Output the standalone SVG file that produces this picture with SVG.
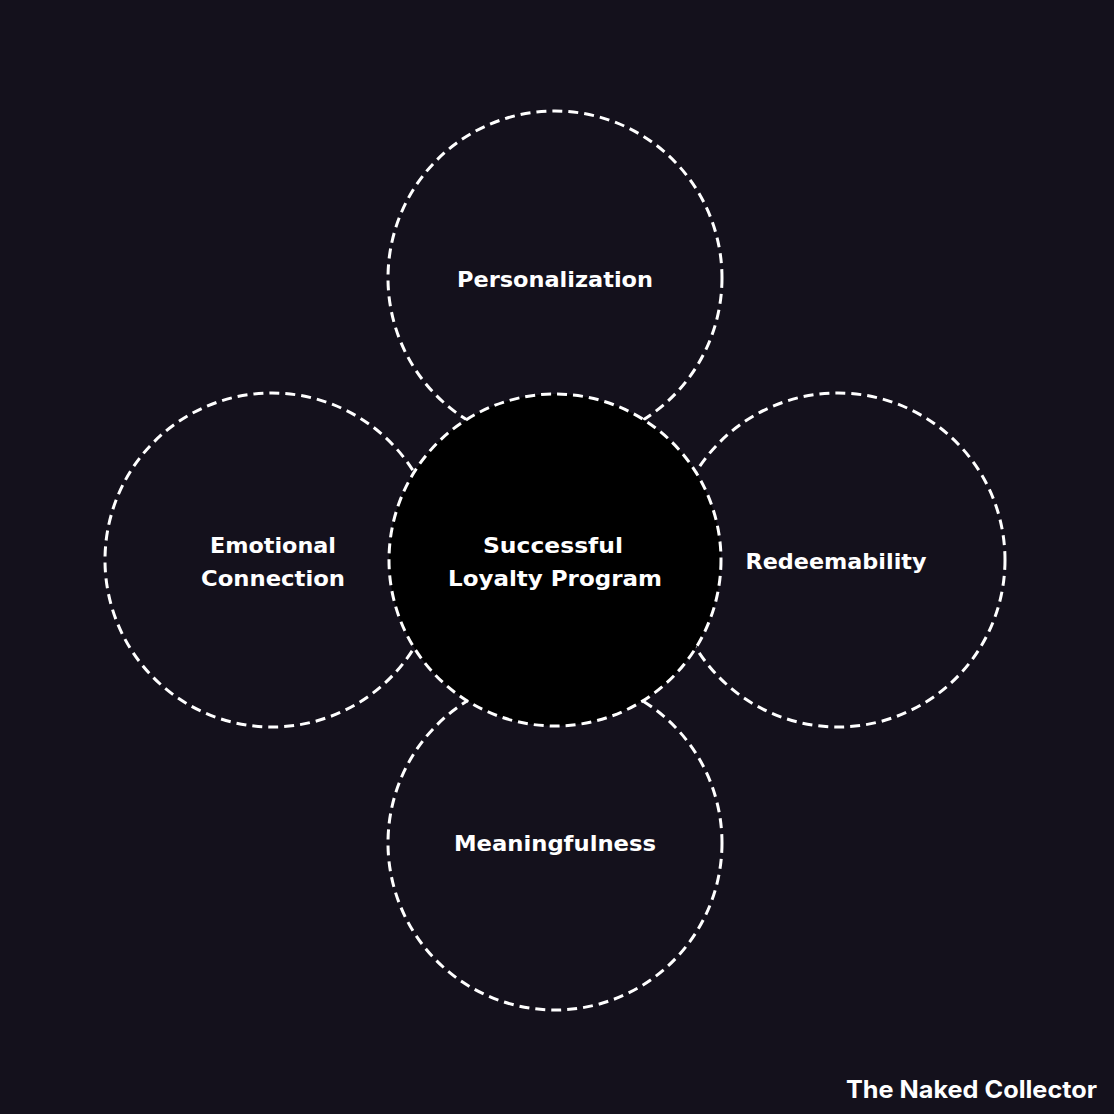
<svg xmlns="http://www.w3.org/2000/svg" width="1114" height="1114" viewBox="0 0 1114 1114">
<style>
.ring{fill:none;stroke:#ffffff;stroke-width:3;stroke-dasharray:10 6}
.core{fill:#000000;stroke:#ffffff;stroke-width:3;stroke-dasharray:10 6}
.lbl{font-family:"DejaVu Sans","Liberation Sans",sans-serif;font-weight:bold;font-size:21px;fill:#ffffff;text-anchor:middle}
.brand{font-family:"Inter","Liberation Sans",Arial,sans-serif;font-weight:bold;font-size:24px;fill:#ffffff;text-anchor:end}
</style>
<rect width="1114" height="1114" fill="#14111c"/>
<g id="connectors"></g>
<g id="personalization">
<circle class="ring" cx="555" cy="278" r="167"/>
<text class="lbl" x="555" y="287" textLength="196" lengthAdjust="spacingAndGlyphs">Personalization</text>
</g>
<g id="emotional">
<circle class="ring" cx="272" cy="560" r="167"/>
<text class="lbl" x="273" y="553" textLength="126" lengthAdjust="spacingAndGlyphs">Emotional</text>
<text class="lbl" x="273" y="586" textLength="144" lengthAdjust="spacingAndGlyphs">Connection</text>
</g>
<g id="redeemability">
<circle class="ring" cx="838" cy="560" r="167"/>
<text class="lbl" x="836" y="569" textLength="181" lengthAdjust="spacingAndGlyphs">Redeemability</text>
</g>
<g id="meaningfulness">
<circle class="ring" cx="555" cy="843" r="167"/>
<text class="lbl" x="555" y="851" textLength="202" lengthAdjust="spacingAndGlyphs">Meaningfulness</text>
</g>
<g id="center">
<circle class="core" cx="555" cy="560" r="166"/>
<text class="lbl" x="553" y="553" textLength="140" lengthAdjust="spacingAndGlyphs">Successful</text>
<text class="lbl" x="555" y="586" textLength="214" lengthAdjust="spacingAndGlyphs">Loyalty Program</text>
</g>
<text class="brand" x="1097" y="1098" textLength="251" lengthAdjust="spacingAndGlyphs">The Naked Collector</text>
</svg>
